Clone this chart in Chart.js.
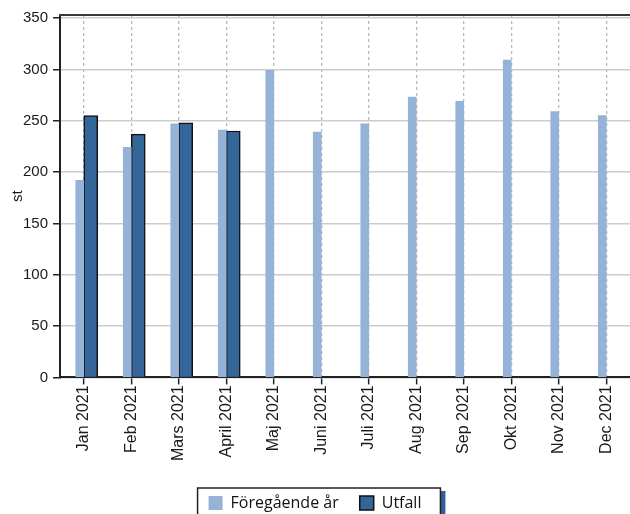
<!DOCTYPE html>
<html>
<head>
<meta charset="utf-8">
<script src="https://cdn.jsdelivr.net/npm/chart.js@4"></script>
<style>
  html, body { margin: 0; padding: 0; background: #fff; overflow: hidden; }
  #wrap { width: 630px; height: 521px; }
</style>
</head>
<body>
<div id="wrap"><canvas id="c"></canvas></div>
<script>
const categories = ['Jan 2021', 'Feb 2021', 'Mars 2021', 'April 2021', 'Maj 2021', 'Juni 2021',
  'Juli 2021', 'Aug 2021', 'Sep 2021', 'Okt 2021', 'Nov 2021', 'Dec 2021'];
const foregaendeAr = [192, 224, 247, 241, 299, 239, 247, 273, 269, 309, 259, 255];
const utfall = [255, 237, 248, 240, null, null, null, null, null, null, null, null];
const seriesNames = ['Föregående år', 'Utfall'];
const yAxisTitle = 'st';

const legendFrame = {
  id: 'legendFrame',
  afterDraw(chart) {
    const lg = chart.legend;
    if (!lg || !lg.legendHitBoxes || !lg.legendHitBoxes.length) return;
    const hb = lg.legendHitBoxes;
    const first = hb[0], last = hb[hb.length - 1];
    const left = first.left - 11;
    const right = last.left + last.width + 19;
    const top = first.top - 7;
    const ctx = chart.ctx;
    ctx.save();
    ctx.fillStyle = '#2f6196';
    ctx.fillRect(right, top + 3, 5, 40);
    ctx.strokeStyle = '#222';
    ctx.lineWidth = 1.5;
    ctx.strokeRect(left, top, right - left, 40);
    ctx.restore();
  }
};

const topFrame = {
  id: 'topFrame',
  afterDraw(chart) {
    const a = chart.chartArea;
    const ctx = chart.ctx;
    ctx.save();
    ctx.strokeStyle = '#3a3a3a';
    ctx.lineWidth = 2;
    ctx.beginPath();
    ctx.moveTo(a.left - 1, a.top);
    ctx.lineTo(a.right + 2, a.top);
    ctx.stroke();
    ctx.restore();
  }
};

new Chart(document.getElementById('c'), {
  type: 'bar',
  data: {
    labels: categories,
    datasets: [
      {
        label: seriesNames[0],
        data: foregaendeAr,
        backgroundColor: '#95b3d7',
        borderWidth: 0,
        barThickness: 8
      },
      {
        label: seriesNames[1],
        data: utfall,
        backgroundColor: '#346699',
        borderColor: '#111',
        borderWidth: 1.5,
        barThickness: 14
      }
    ]
  },
  plugins: [legendFrame, topFrame],
  options: {
    responsive: true,
    maintainAspectRatio: false,
    animation: false,
    layout: { padding: { top: 15, right: 0, left: 0, bottom: 0 } },
    plugins: {
      tooltip: { enabled: false },
      title: { display: false },
      legend: {
        position: 'bottom',
        labels: {
          font: { family: 'Open Sans', size: 16 },
          color: '#111',
          boxWidth: 14,
          boxHeight: 14,
          padding: 21
        }
      }
    },
    scales: {
      x: {
        offset: true,
        afterFit(scale) { scale.height += 12; },
        grid: {
          display: true,
          offset: false,
          color: '#b9b9b9',
          lineWidth: 1.3,
          drawTicks: true,
          tickLength: 7,
          tickColor: '#222',
          tickWidth: 1.5,
          tickBorderDash: []
        },
        border: { display: true, color: '#222', width: 2, dash: [3, 3] },
        ticks: {
          autoSkip: false,
          minRotation: 90,
          maxRotation: 90,
          padding: 1,
          color: '#1a1a1a',
          font: { family: 'Liberation Sans', size: 16 }
        }
      },
      y: {
        min: 0,
        max: 353,
        afterFit(scale) { scale.width = 60; },
        grid: {
          color: '#cccccc',
          lineWidth: 1.5,
          tickLength: 7,
          tickColor: '#222',
          tickWidth: 1.5
        },
        border: { display: true, color: '#222', width: 2 },
        ticks: {
          stepSize: 50,
          includeBounds: false,
          padding: 5,
          color: '#1a1a1a',
          font: { family: 'Liberation Sans', size: 15 }
        },
        title: {
          display: true,
          text: yAxisTitle,
          color: '#1a1a1a',
          font: { family: 'Liberation Sans', size: 15 },
          padding: { top: 9, bottom: 0 }
        }
      }
    }
  }
});
</script>
</body>
</html>
